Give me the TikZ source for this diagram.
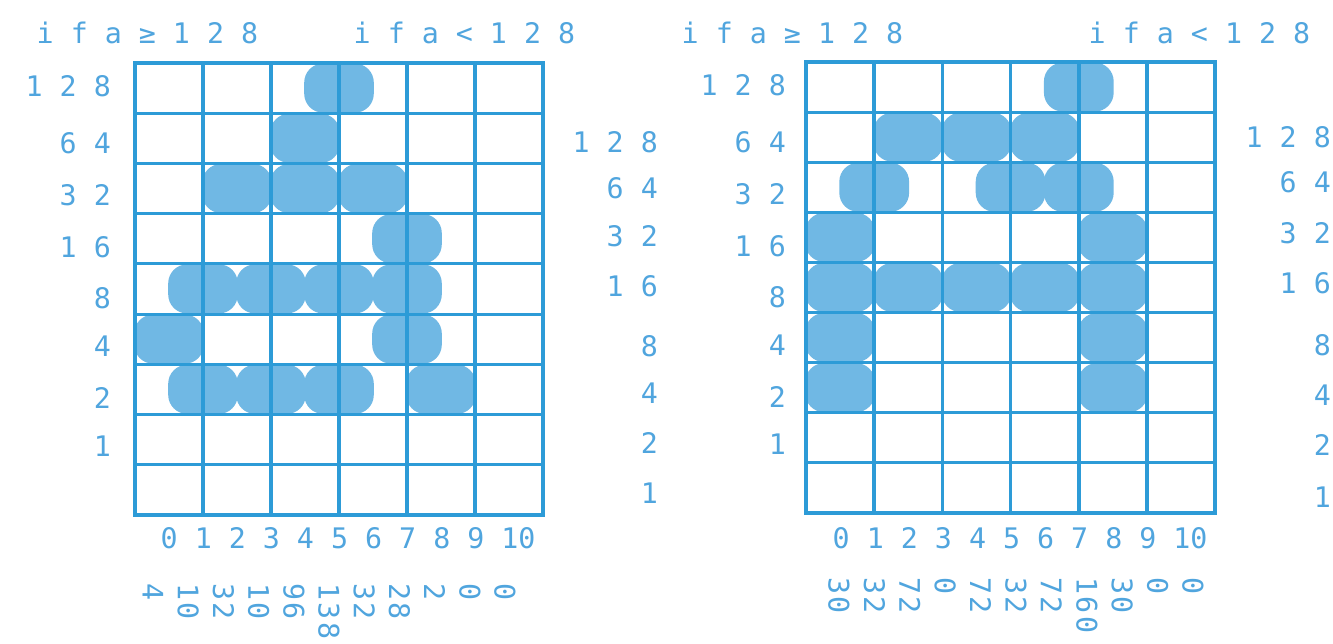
\documentclass[tikz,border=0pt]{standalone}
\usepackage{fontspec}
\newfontfamily\pf{DejaVu Sans Mono}
\newfontfamily\pfr[LetterSpace=9]{DejaVu Sans Mono}
\definecolor{inkline}{RGB}{45,155,215}
\definecolor{inkfill}{RGB}{112,184,228}
\definecolor{inktext}{RGB}{80,165,222}
\begin{document}
\begin{tikzpicture}[x=1pt,y=-1pt,
  vline/.style={draw=inkline,line width=3.6pt},
  hline/.style={draw=inkline,line width=3pt},
  dotfill/.style={fill=inkfill,rounded corners=19pt},
  lbl/.style={text=inktext,font=\pf\fontsize{28.3}{30}\selectfont,inner sep=0pt},
  rotnum/.style={text=inktext,font=\pfr\fontsize{28.3}{30}\selectfont,inner sep=0pt,rotate=-90,anchor=west},
]
\useasboundingbox (0,0) rectangle (1333,643);
\fill[white] (0,0) rectangle (1333,643);

% ---------------- left grid ----------------
\begin{scope}[shift={(135,63)}]
  \foreach \k/\r in {0/6,1/5,1/7,2/3,3/5,3/7,4/2,4/3,5/1,5/5,5/7,6/3,7/4,7/5,7/6,8/7}
    \fill[dotfill] ({34*\k-0.8},{50.2*(\r-1)+0.5}) rectangle ({34*\k+68.8},{50.2*\r-0.5});
  \foreach \i in {1,...,5} \draw[vline] ({68*\i},0) -- ({68*\i},451.8);
  \foreach \j in {1,...,8} \draw[hline] (0,{50.2*\j}) -- (408,{50.2*\j});
  \draw[vline] (0,0) rectangle (408,451.8);
\end{scope}

% ---------------- right grid ----------------
\begin{scope}[shift={(806,62)}]
  \foreach \k/\r in {0/4,0/5,0/6,0/7,1/3,2/2,2/5,4/2,4/5,5/3,6/2,6/5,7/1,7/3,8/4,8/5,8/6,8/7}
    \fill[dotfill] ({34.1*\k-0.8},{50.1*(\r-1)+0.5}) rectangle ({34.1*\k+69},{50.1*\r-0.5});
  \foreach \i in {1,...,5} \draw[vline] ({68.2*\i},0) -- ({68.2*\i},451);
  \foreach \j in {1,...,8} \draw[hline] (0,{50.1*\j}) -- (409,{50.1*\j});
  \draw[vline] (0,0) rectangle (409,451);
\end{scope}

% ---------------- headers ----------------
\node[lbl,anchor=base west] (hLa) at (36.5,43) {i f a ≥ 1 2 8};
\node[lbl,anchor=base west] (hLb) at (353.5,43) {i f a < 1 2 8};
\node[lbl,anchor=base west] (hRa) at (681.5,43) {i f a ≥ 1 2 8};
\node[lbl,anchor=base west] (hRb) at (1088.5,43) {i f a < 1 2 8};

% ---------------- row labels ----------------
\foreach \t/\y [count=\c] in {1 2 8/86,6 4/143,3 2/195,1 6/247,8/298,4/346,2/398,1/446}
  \node[lbl,anchor=east] (la\c) at (111,\y) {\t};
\foreach \t/\y [count=\c] in {1 2 8/142,6 4/188,3 2/236,1 6/286,8/346,4/393,2/443,1/493}
  \node[lbl,anchor=east] (lb\c) at (658,\y) {\t};
\foreach \t/\y [count=\c] in {1 2 8/85,6 4/142,3 2/194,1 6/246,8/297,4/345,2/397,1/444}
  \node[lbl,anchor=east] (ra\c) at (786,\y) {\t};
\foreach \t/\y [count=\c] in {1 2 8/137,6 4/182,3 2/233,1 6/283,8/345,4/395,2/445,1/497}
  \node[lbl,anchor=east] (rb\c) at (1331,\y) {\t};

% ---------------- column labels ----------------
\node[lbl,anchor=west] (colL) at (160.5,538) {0 1 2 3 4 5 6 7 8 9 10};
\node[lbl,anchor=west] (colR) at (832.5,538) {0 1 2 3 4 5 6 7 8 9 10};

% ---------------- column values (printed sideways) ----------------
\foreach \v [count=\c from 0] in {4,10,32,10,96,138,32,28,2,0,0}
  \node[rotnum] (vL\c) at ({153+35.2*\c},583) {\v};
\foreach \v [count=\c from 0] in {30,32,72,0,72,32,72,160,30,0,0}
  \node[rotnum] (vR\c) at ({839+35.4*\c},577) {\v};
\end{tikzpicture}
\end{document}
